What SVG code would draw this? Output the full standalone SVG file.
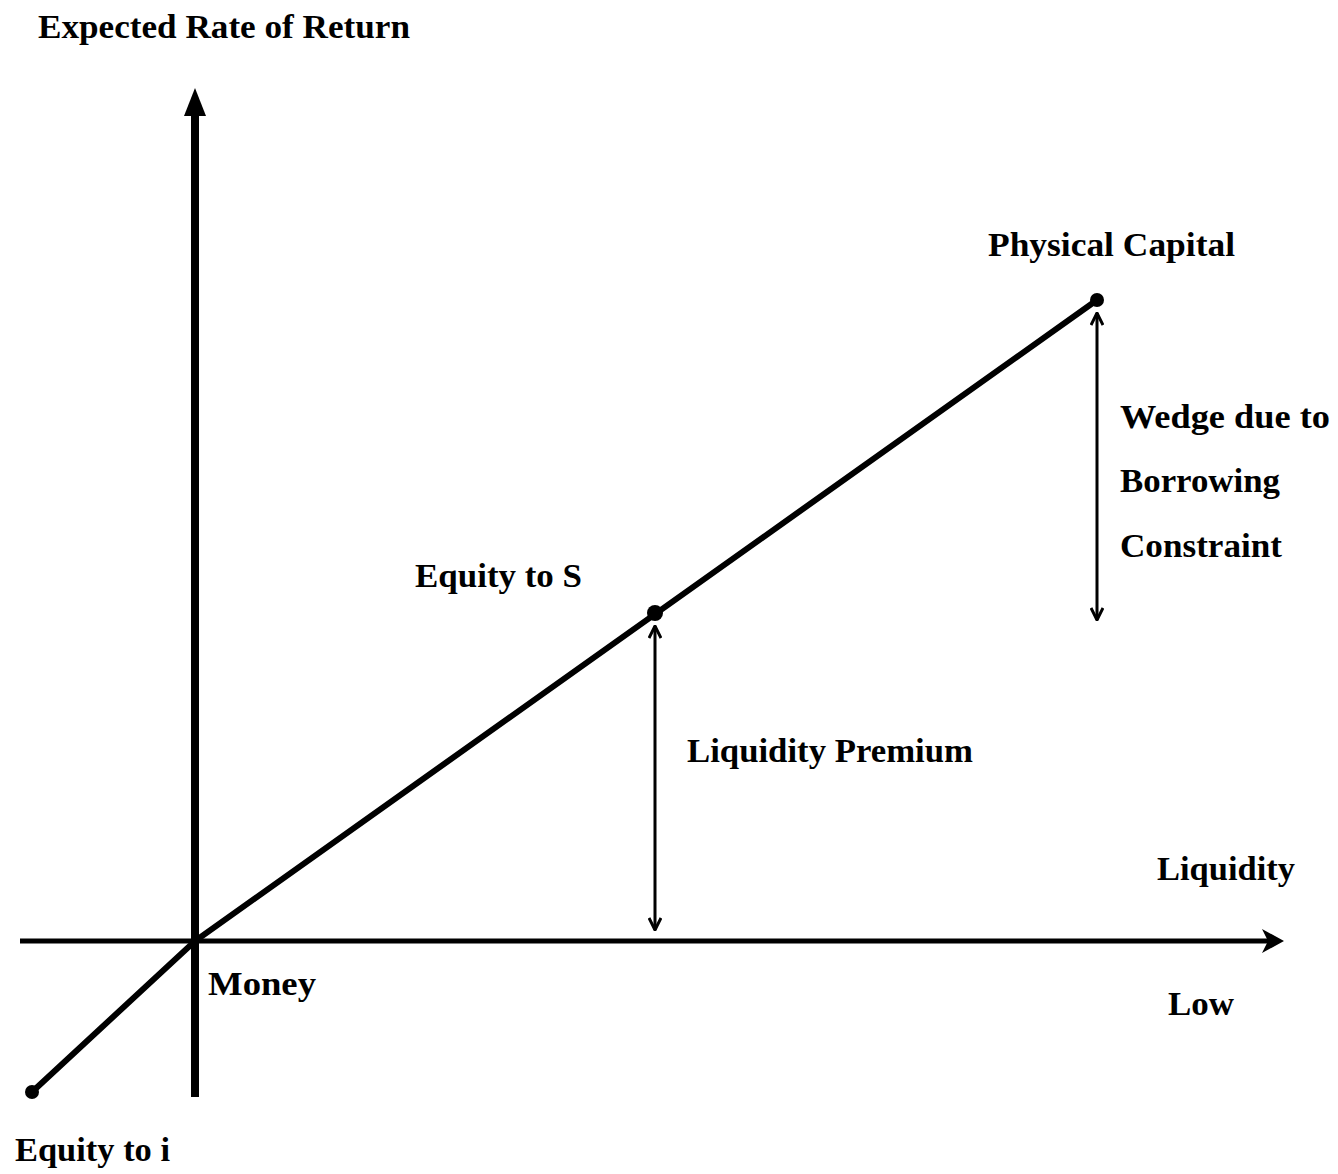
<svg xmlns="http://www.w3.org/2000/svg" width="1338" height="1174" viewBox="0 0 1338 1174">
<style>
.t{font-family:"Liberation Serif","Times New Roman",serif;font-weight:bold;font-size:34px;fill:#000}
.ax{stroke:#000;fill:none}
.da{stroke:#000;stroke-width:3;fill:none}
</style>
<defs>
<marker id="vh" viewBox="0 0 14 14" refX="13" refY="7" markerWidth="14" markerHeight="14" markerUnits="userSpaceOnUse" orient="auto-start-reverse">
<path d="M1,1 L13,7 L1,13" stroke="#000" stroke-width="3" fill="none"/>
</marker>
</defs>
<rect width="1338" height="1174" fill="#fff"/>
<g id="connectors">
<line class="ax" x1="195" y1="1097" x2="195" y2="108" stroke-width="8"/>
<polygon points="195,88 206,116 184,116" fill="#000"/>
<line class="ax" x1="20" y1="941" x2="1270" y2="941" stroke-width="5"/>
<polygon points="1284,941 1262,929 1268,941 1262,953" fill="#000"/>
<polyline class="ax" points="32,1092 195,941 1097,300" stroke-width="6"/>
<line class="da" x1="655" y1="626" x2="655" y2="930" marker-start="url(#vh)" marker-end="url(#vh)"/>
<line class="da" x1="1097" y1="313" x2="1097" y2="620" marker-start="url(#vh)" marker-end="url(#vh)"/>
</g>
<g id="node-equity-i"><circle cx="32" cy="1092" r="7"/><text class="t" x="15" y="1161" textLength="155" lengthAdjust="spacingAndGlyphs">Equity to i</text></g>
<g id="node-money"><text class="t" x="208" y="995" textLength="108" lengthAdjust="spacingAndGlyphs">Money</text></g>
<g id="node-equity-s"><circle cx="655" cy="613" r="8"/><text class="t" x="415" y="587" textLength="167" lengthAdjust="spacingAndGlyphs">Equity to S</text></g>
<g id="node-physical"><circle cx="1097" cy="300" r="7"/><text class="t" x="988" y="256" textLength="247" lengthAdjust="spacingAndGlyphs">Physical Capital</text></g>
<g id="label-y"><text class="t" x="38" y="38" textLength="372" lengthAdjust="spacingAndGlyphs">Expected Rate of Return</text></g>
<g id="label-liqprem"><text class="t" x="687" y="762" textLength="286" lengthAdjust="spacingAndGlyphs">Liquidity Premium</text></g>
<g id="label-wedge">
<text class="t" x="1120" y="428" textLength="210" lengthAdjust="spacingAndGlyphs">Wedge due to</text>
<text class="t" x="1120" y="492" textLength="160" lengthAdjust="spacingAndGlyphs">Borrowing</text>
<text class="t" x="1120" y="557" textLength="162" lengthAdjust="spacingAndGlyphs">Constraint</text>
</g>
<g id="label-x"><text class="t" x="1157" y="880" textLength="138" lengthAdjust="spacingAndGlyphs">Liquidity</text></g>
<g id="label-low"><text class="t" x="1168" y="1015" textLength="66" lengthAdjust="spacingAndGlyphs">Low</text></g>
</svg>
